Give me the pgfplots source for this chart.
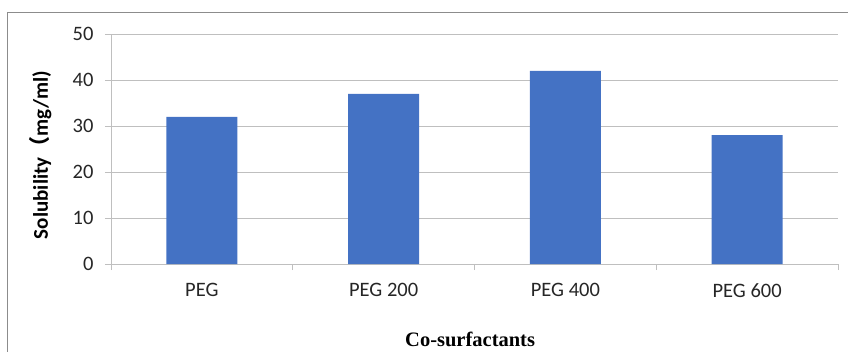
\documentclass[border=0pt]{standalone}
\usepackage{fontspec}
\setmainfont{Carlito}
\newfontfamily\timesfont{Liberation Serif}
\newfontfamily\cjk{Noto Sans CJK SC}
\usepackage{pgfplots}
\pgfplotsset{compat=1.18}
\definecolor{barblue}{HTML}{4472C4}
\definecolor{gridgray}{HTML}{BFBFBF}
\definecolor{framegray}{HTML}{8C8C8C}
\begin{document}
\begin{tikzpicture}
\begin{axis}[
  at={(0pt,0pt)}, anchor=south west,
  scale only axis, width=727pt, height=230pt,
  xmin=-0.5, xmax=3.5, ymin=0, ymax=50,
  ytick={0,10,20,30,40,50},
  xtick={-0.5,0.5,1.5,2.5,3.5},
  x tick label as interval,
  xticklabels={PEG,PEG 200,PEG 400,PEG 600},
  tick style={draw=gridgray, line width=0.8pt},
  tick align=outside, major tick length=6pt,
  axis lines*=left,
  axis line style={draw=gridgray, line width=0.8pt},
  ymajorgrids, grid style={draw=gridgray, line width=0.8pt},
  tick label style={font=\fontsize{20.5}{20.5}\selectfont, text=black!85},
  /pgf/number format/assume math mode=true,
  yticklabel style={xshift=-8pt},
  xticklabel style={yshift=-10pt},
  xlabel={\timesfont\bfseries Co-surfactants},
  xlabel style={font=\fontsize{20.5}{20.5}\selectfont, at={(axis description cs:0.494,-0.33)}, anchor=center},
  ylabel={\bfseries Solubility{\cjk （}mg/ml)},
  ylabel style={font=\fontsize{21}{21}\selectfont, at={(axis description cs:-0.097,0.474)}, anchor=center},
]
\addplot[ybar, bar width=71pt, fill=barblue, draw=none] coordinates {(0,32) (1,37) (2,42) (3,28)};
\end{axis}
\draw[framegray, line width=1pt] (-103.5pt,-95pt) -- (-103.5pt,251.7pt) -- (745pt,251.7pt);
\pgfresetboundingbox
\useasboundingbox (-111pt,-87pt) rectangle (737pt,264pt);
\end{tikzpicture}
\end{document}
